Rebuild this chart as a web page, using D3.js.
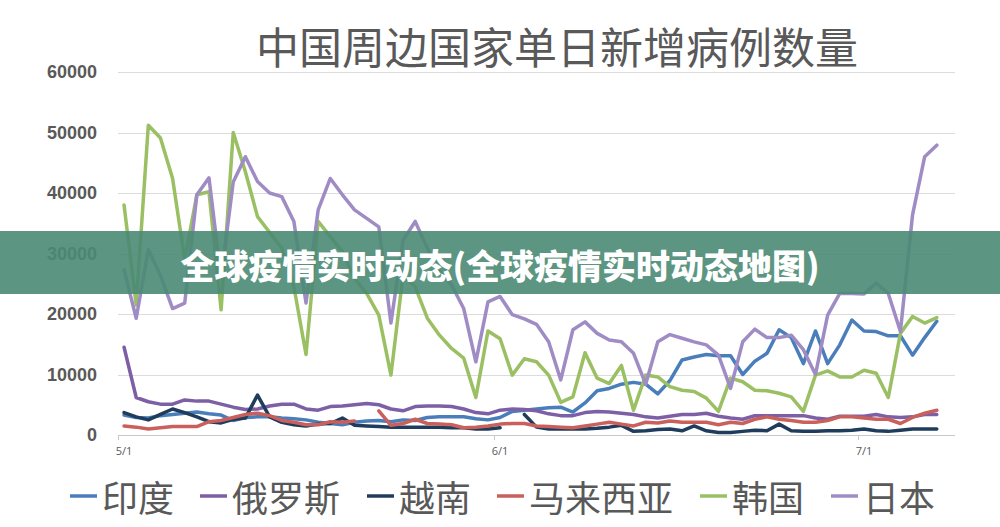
<!DOCTYPE html>
<html>
<head>
<meta charset="utf-8">
<script src="https://cdnjs.cloudflare.com/ajax/libs/d3/7.8.5/d3.min.js"></script>
<style>
  body { margin: 0; background: #fff; }
  svg { display: block; }
</style>
</head>
<body>
<div id="chart"></div>
<script>
// daily new cases, 5/1 .. 7/7 (one value per day, null = no report)
var india = [3300, 2900, 2800, 3200, 3400, 3600, 3800, 3500, 3300, 2400, 2900, 3000, 3000, 2800, 2700, 2500, 2100, 1900, 1700, 2100,
  2300, 2400, 2200, 2500, 2400, 2900, 3000, 3000, 3000, 2700, 2500, 2900, 3900, 4100, 4300, 4500, 4600, 3800, 5300, 7300,
  7700, 8400, 8700, 8400, 6800, 9000, 12400, 12900, 13300, 13100, 13100, 10000, 12200, 13500, 17400, 16100, 11800, 17200, 11800, 14900,
  19000, 17200, 17100, 16400, 16400, 13200, 16100, 18800];
var russia = [14500, 6200, 5500, 5100, 5100, 5800, 5600, 5600, 5100, 4600, 4200, 4300, 4800, 5100, 5100, 4300, 4100, 4700, 4800, 5000,
  5200, 5000, 4300, 4000, 4700, 4800, 4800, 4700, 4300, 3700, 3500, 4100, 4300, 4200, 4000, 3500, 3200, 3200, 3700, 3900,
  3800, 3600, 3400, 3000, 2800, 3100, 3400, 3400, 3600, 3100, 2800, 2600, 3200, 3200, 3200, 3200, 3200, 2800, 2600, 3100,
  3100, 3100, 3400, 3000, 2900, 3000, 3400, 3400];
var vietnam = [3700, 3000, 2500, 3400, 4300, 3700, 3000, 2200, 2000, 2600, 2800, 6600, 3000, 2100, 1700, 1500, 1800, 1900, 2800, 1600,
  1500, 1400, 1300, 1300, 1300, 1300, 1300, 1200, 1200, 1000, 1000, 1200, null, 3400, 1300, 1000, 1000, 1000, 1000, 1100,
  1300, 1600, 600, 700, 900, 1000, 700, 1500, 700, 400, 400, 600, 800, 700, 1800, 700, 600, 600, 700, 700,
  800, 1000, 700, 600, 800, 1000, 1000, 1000];
var malaysia = [1500, 1300, 1000, 1200, 1400, 1400, 1400, 2200, 2400, 2900, 3400, 3600, 3200, 2400, 2100, 1700, 1700, 2200, 2100, 2300,
  null, 4000, 1600, 1900, 2600, 1900, 1800, 1700, 1200, 1300, 1500, 1800, 1900, 1900, 1500, 1400, 1300, 1200, 1500, 1800,
  2100, 1800, 1500, 2100, 2000, 2300, 2100, 2100, 2100, 1700, 2100, 1900, 2600, 3000, 2600, 2400, 2100, 2100, 2400, 3000,
  3000, 2800, 2600, 2600, 1900, 2900, 3600, 4100];
var korea = [38000, 21500, 51200, 49100, 42400, 29000, 39700, 40200, 20700, 50000, 43500, 36100, 33500, 30900, 24500, 13300, 35300, 32800, 30300, 25900,
  23400, 19800, 9900, 26500, 24500, 19300, 16500, 14300, 12700, 6200, 17200, 15900, 9900, 12600, 12100, 9900, 5400, 6300, 13600, 9400,
  8500, 11500, 4100, 9900, 9600, 8000, 7400, 7200, 6100, 3900, 9400, 8800, 7400, 7300, 6900, 6300, 3900, 9900, 10600, 9600,
  9600, 10700, 10200, 6200, 16800, 19600, 18500, 19400];
var japan = [27300, 19300, 30600, 26400, 20900, 21800, 39700, 42500, 26000, 41800, 46000, 41900, 40000, 39400, 35300, 21800, 37200, 42400, 39700, 37200,
  35800, 34400, 18500, 32200, 35300, 30900, 27000, 24800, 20900, 12100, 22000, 22900, 19900, 19200, 18300, 15400, 9100, 17400, 18700, 16800,
  15700, 15400, 13500, 8400, 15400, 16600, 16000, 15400, 14900, 13200, 7700, 15400, 17500, 16100, 16100, 16500, 14100, 10000, 19800, 23400,
  23400, 23300, 25100, 23400, 17100, 36400, 46000, 47900];

var seriesNames = ['印度', '俄罗斯', '越南', '马来西亚', '韩国', '日本'];
var seriesColors = ['#4a7ebb', '#7d5fa6', '#1f3c5c', '#c9605c', '#9bbf63', '#a08cc4'];
var yTicks = [0, 10000, 20000, 30000, 40000, 50000, 60000];
var xTickLabels = ['5/1', '6/1', '7/1'];

var title = '中国周边国家单日新增病例数量';
var bannerText = '全球疫情实时动态(全球疫情实时动态地图)';

var W = 1000, H = 527,
    PLOT_LEFT = 118, PLOT_RIGHT = 955,
    PLOT_TOP = 72, PLOT_BOTTOM = 435,
    TEXT_GRAY = '#595959';

var fmt = d3.timeFormat('%-m/%-d');
var days = d3.timeDay.range(new Date(2020, 4, 1), new Date(2020, 6, 9)).map(fmt);

var allSeries = [india, russia, vietnam, malaysia, korea, japan].map(function (vals, i) {
  return { name: seriesNames[i], color: seriesColors[i], values: vals };
});

var svg = d3.select('#chart')
  .append('svg')
  .attr('width', W)
  .attr('height', H);

var x = d3.scaleBand()
  .domain(days)
  .range([PLOT_LEFT, PLOT_RIGHT])
  .padding(0);

var y = d3.scaleLinear()
  .domain([0, 60000])
  .range([PLOT_BOTTOM, PLOT_TOP]);

// title
svg.append('text')
  .attr('x', 557)
  .attr('y', 45)
  .attr('text-anchor', 'middle')
  .attr('dominant-baseline', 'central')
  .style('font-family', '"Noto Sans CJK SC", sans-serif')
  .style('font-size', '43px')
  .style('fill', TEXT_GRAY)
  .text(title);

// gridlines
svg.selectAll('line.grid')
  .data(yTicks)
  .enter()
  .append('line')
  .attr('class', 'grid')
  .attr('x1', PLOT_LEFT)
  .attr('x2', PLOT_RIGHT)
  .attr('y1', function (d) { return Math.round(y(d)) + 0.5; })
  .attr('y2', function (d) { return Math.round(y(d)) + 0.5; })
  .attr('stroke', function (d) { return d === 0 ? '#c8c8c8' : '#dcdcdc'; })
  .attr('stroke-width', 1);

// y labels
svg.selectAll('text.ylab')
  .data(yTicks)
  .enter()
  .append('text')
  .attr('class', 'ylab')
  .attr('x', 97)
  .attr('y', function (d) { return y(d); })
  .attr('text-anchor', 'end')
  .attr('dominant-baseline', 'central')
  .style('font-family', '"Liberation Sans", Arial, sans-serif')
  .style('font-weight', 'bold')
  .style('font-size', '18px')
  .style('fill', TEXT_GRAY)
  .text(function (d) { return d; });

// x axis: tick marks on band edges, labels on band centres
var xAxis = d3.axisBottom(x)
  .tickValues(xTickLabels)
  .tickSize(0)
  .tickPadding(12);

var xg = svg.append('g')
  .attr('transform', 'translate(0,' + PLOT_BOTTOM + ')')
  .call(xAxis);
xg.select('.domain').remove();
xg.selectAll('text')
  .style('font-family', '"Open Sans", sans-serif')
  .style('font-size', '11px')
  .style('fill', TEXT_GRAY);

svg.selectAll('line.xtick')
  .data(xTickLabels)
  .enter()
  .append('line')
  .attr('class', 'xtick')
  .attr('x1', function (d) { return Math.round(x(d)) + 0.5; })
  .attr('x2', function (d) { return Math.round(x(d)) + 0.5; })
  .attr('y1', PLOT_BOTTOM)
  .attr('y2', PLOT_BOTTOM + 5)
  .attr('stroke', '#c8c8c8');

// series lines
var line = d3.line()
  .defined(function (d) { return d != null; })
  .x(function (d, i) { return x(days[i]) + x.bandwidth() / 2; })
  .y(function (d) { return y(d); });

svg.selectAll('path.series')
  .data(allSeries)
  .enter()
  .append('path')
  .attr('class', 'series')
  .attr('d', function (s) { return line(s.values); })
  .attr('fill', 'none')
  .attr('stroke', function (s) { return s.color; })
  .attr('stroke-width', 3.5)
  .attr('stroke-linejoin', 'round')
  .attr('stroke-linecap', 'round');

// legend
var legendX = [70, 200, 367, 497, 700, 831];
var legend = svg.selectAll('g.legend')
  .data(allSeries)
  .enter()
  .append('g')
  .attr('class', 'legend')
  .attr('transform', function (s, i) { return 'translate(' + legendX[i] + ',496)'; });

legend.append('line')
  .attr('x1', 0)
  .attr('x2', 27)
  .attr('y1', 0)
  .attr('y2', 0)
  .attr('stroke', function (s) { return s.color; })
  .attr('stroke-width', 3.5);

legend.append('text')
  .attr('x', 32)
  .attr('y', 0)
  .attr('dominant-baseline', 'central')
  .style('font-family', '"Noto Sans CJK SC", sans-serif')
  .style('font-size', '36px')
  .style('fill', TEXT_GRAY)
  .text(function (s) { return s.name; });

// overlay banner
svg.append('rect')
  .attr('x', 0)
  .attr('y', 231)
  .attr('width', W)
  .attr('height', 63)
  .attr('fill', '#4a8a73')
  .attr('opacity', 0.9);

svg.append('text')
  .attr('x', 500)
  .attr('y', 264)
  .attr('text-anchor', 'middle')
  .attr('dominant-baseline', 'central')
  .style('font-family', '"Noto Sans CJK SC", sans-serif')
  .style('font-weight', '900')
  .style('font-size', '34px')
  .style('fill', '#ffffff')
  .text(bannerText);
</script>
</body>
</html>
